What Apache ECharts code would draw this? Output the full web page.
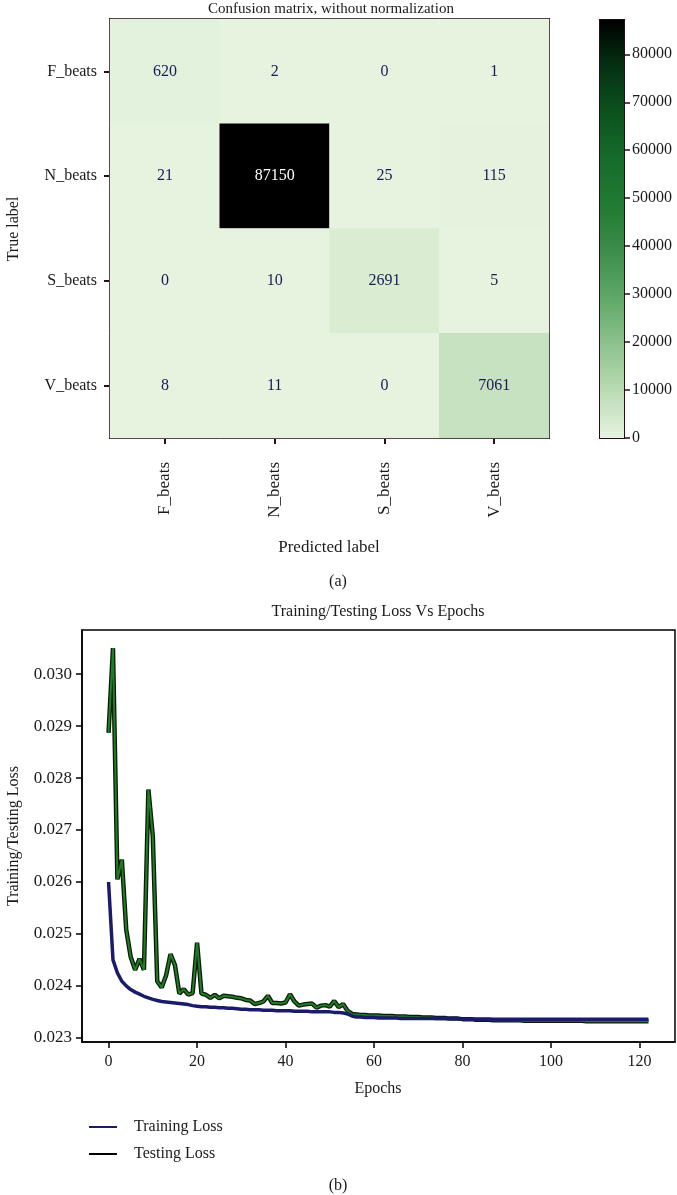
<!DOCTYPE html>
<html>
<head>
<meta charset="utf-8">
<script src="https://cdn.jsdelivr.net/npm/echarts@6/dist/echarts.min.js"></script>
<style>
html,body{margin:0;padding:0;background:#fff;}
#c{width:677px;height:1195px;}
</style>
</head>
<body>
<div id="c"></div>
<script>
// ---------- Data ----------
const classLabels = ['F_beats', 'N_beats', 'S_beats', 'V_beats'];
// rows = true label, cols = predicted label
const cmRowF = [620, 2, 0, 1];
const cmRowN = [21, 87150, 25, 115];
const cmRowS = [0, 10, 2691, 5];
const cmRowV = [8, 11, 0, 7061];
const colorbarTicks = [0, 10000, 20000, 30000, 40000, 50000, 60000, 70000, 80000];

const epochTicks = [0, 20, 40, 60, 80, 100, 120];
const lossTicks = [0.023, 0.024, 0.025, 0.026, 0.027, 0.028, 0.029, 0.030];

const trainingLoss = [
  0.02600, 0.02450, 0.02425, 0.02409, 0.02400, 0.02393, 0.02388, 0.02384, 0.02380, 0.02377,
  0.02374, 0.02372, 0.02370, 0.02369, 0.02368, 0.02367, 0.02366, 0.02365, 0.02364, 0.02362,
  0.02361, 0.02360, 0.02360, 0.02359, 0.02359, 0.02358, 0.02358, 0.02357, 0.02357, 0.02356,
  0.02355, 0.02355, 0.02354, 0.02354, 0.02354, 0.02353, 0.02353, 0.02353, 0.02352, 0.02352,
  0.02352, 0.02352, 0.02351, 0.02351, 0.02351, 0.02351, 0.02350, 0.02350, 0.02350, 0.02350,
  0.02350, 0.02349, 0.02349, 0.02348, 0.02346, 0.02342, 0.02340, 0.02340, 0.02339, 0.02339,
  0.02339, 0.02338, 0.02338, 0.02338, 0.02338, 0.02338, 0.02337, 0.02337, 0.02337, 0.02337,
  0.02337, 0.02337, 0.02337, 0.02337, 0.02337, 0.02337, 0.02337, 0.02337, 0.02337, 0.02337,
  0.02336, 0.02336, 0.02336, 0.02336, 0.02336, 0.02336, 0.02336, 0.02336, 0.02336, 0.02336,
  0.02336, 0.02336, 0.02336, 0.02336, 0.02336, 0.02336, 0.02336, 0.02336, 0.02336, 0.02336,
  0.02336, 0.02336, 0.02336, 0.02336, 0.02336, 0.02336, 0.02336, 0.02336, 0.02336, 0.02336,
  0.02336, 0.02336, 0.02336, 0.02336, 0.02336, 0.02336, 0.02336, 0.02336, 0.02336, 0.02336,
  0.02336, 0.02336, 0.02336
];
const testingLoss = [
  0.02887, 0.03050, 0.02605, 0.02643, 0.02508, 0.02456, 0.02431, 0.02452, 0.02431, 0.02778,
  0.02688, 0.02409, 0.02397, 0.02420, 0.02461, 0.02440, 0.02385, 0.02394, 0.02383, 0.02386,
  0.02483, 0.02385, 0.02383, 0.02377, 0.02383, 0.02376, 0.02381, 0.02380, 0.02379, 0.02377,
  0.02376, 0.02373, 0.02372, 0.02365, 0.02367, 0.02370, 0.02381, 0.02367, 0.02367, 0.02366,
  0.02368, 0.02384, 0.02370, 0.02362, 0.02364, 0.02365, 0.02366, 0.02358, 0.02362, 0.02363,
  0.02360, 0.02371, 0.02359, 0.02365, 0.02352, 0.02346, 0.02345, 0.02344, 0.02344, 0.02343,
  0.02343, 0.02343, 0.02342, 0.02342, 0.02342, 0.02341, 0.02341, 0.02341, 0.02340, 0.02340,
  0.02340, 0.02339, 0.02339, 0.02339, 0.02338, 0.02338, 0.02338, 0.02337, 0.02337, 0.02337,
  0.02336, 0.02336, 0.02336, 0.02335, 0.02335, 0.02335, 0.02335, 0.02334, 0.02334, 0.02334,
  0.02334, 0.02334, 0.02334, 0.02334, 0.02333, 0.02333, 0.02333, 0.02333, 0.02333, 0.02333,
  0.02333, 0.02333, 0.02333, 0.02333, 0.02333, 0.02333, 0.02333, 0.02333, 0.02332, 0.02332,
  0.02332, 0.02332, 0.02332, 0.02332, 0.02332, 0.02332, 0.02332, 0.02332, 0.02332, 0.02332,
  0.02332, 0.02332, 0.02332
];

// ---------- Build ----------
const cmRows = [cmRowF, cmRowN, cmRowS, cmRowV];
const cmMax = Math.max(...cmRows.flat());
const heatData = [];
cmRows.forEach((row, i) => row.forEach((v, j) => heatData.push([j, i, v])));
const trainPts = trainingLoss.map((v, i) => [i, v]);
const testPts = testingLoss.map((v, i) => [i, v]);

const cmap = ['#e6f3df', '#bbdcb4', '#8ec28e', '#60a967', '#3d8e4a',
              '#217b32', '#156c2b', '#0c521e', '#053112', '#000000'];
const FONT = '"Liberation Serif", "DejaVu Serif", serif';
const TXT = '#1a1a1a';
const FRAME = '#2a0d1c';
const FS = 16;

const chart = echarts.init(document.getElementById('c'), null, {renderer: 'canvas'});

const gradStops = cmap.map((c, i) => ({offset: 1 - i / (cmap.length - 1), color: c}));

const option = {
  backgroundColor: '#fff',
  animation: false,
  textStyle: {fontFamily: FONT},
  grid: [
    {left: 110, top: 19, width: 439, height: 419, show: true, borderColor: FRAME, borderWidth: 2, backgroundColor: 'transparent'},
    {left: 600, top: 20, width: 24, height: 418, show: true, borderColor: FRAME, borderWidth: 2},
    {left: 82, top: 630, width: 593, height: 412, show: true, borderColor: '#000', borderWidth: 1.5}
  ],
  visualMap: {
    show: false, type: 'continuous', seriesIndex: 0, min: 0, max: cmMax, dimension: 2,
    inRange: {color: cmap}
  },
  xAxis: [
    {
      gridIndex: 0, type: 'category', data: classLabels, position: 'bottom',
      axisLine: {show: true, lineStyle: {color: FRAME, width: 2}},
      axisTick: {show: true, alignWithLabel: true, length: 6, lineStyle: {color: FRAME, width: 2}},
      axisLabel: {rotate: 90, margin: 24, fontSize: FS + 1, color: TXT, fontFamily: FONT},
      splitLine: {show: false}, splitArea: {show: false}
    },
    {gridIndex: 1, type: 'category', data: [''], show: false},
    {
      gridIndex: 2, type: 'value', min: -6, max: 128,
      axisLine: {show: true, onZero: false, lineStyle: {color: '#000', width: 1.5}},
      axisTick: {show: true, customValues: epochTicks, length: 6, lineStyle: {color: '#000', width: 1.5}},
      axisLabel: {customValues: epochTicks, margin: 12, fontSize: FS, color: TXT, fontFamily: FONT},
      splitLine: {show: false}
    }
  ],
  yAxis: [
    {
      gridIndex: 0, type: 'category', data: classLabels, inverse: true,
      axisLine: {show: true, lineStyle: {color: FRAME, width: 2}},
      axisTick: {show: true, alignWithLabel: true, length: 6, lineStyle: {color: FRAME, width: 2}},
      axisLabel: {margin: 13, fontSize: FS, color: TXT, fontFamily: FONT},
      splitLine: {show: false}, splitArea: {show: false}
    },
    {
      gridIndex: 1, type: 'value', min: 0, max: cmMax, position: 'right',
      axisLine: {show: true, onZero: false, lineStyle: {color: FRAME, width: 2}},
      axisTick: {show: true, customValues: colorbarTicks, length: 6, lineStyle: {color: FRAME, width: 1.5}},
      axisLabel: {customValues: colorbarTicks, margin: 8, fontSize: FS, color: TXT, fontFamily: FONT,
                  formatter: v => String(v)},
      splitLine: {show: false}
    },
    {
      gridIndex: 2, type: 'value', min: 0.02292, max: 0.03085,
      axisLine: {show: true, onZero: false, lineStyle: {color: '#000', width: 1.5}},
      axisTick: {show: true, customValues: lossTicks, length: 6, lineStyle: {color: '#000', width: 1.5}},
      axisLabel: {customValues: lossTicks, margin: 10, fontSize: FS + 1, color: TXT, fontFamily: FONT,
                  formatter: v => v.toFixed(3)},
      splitLine: {show: false}
    }
  ],
  legend: {
    orient: 'vertical', left: 84, top: 1114, itemGap: 11, itemWidth: 28, itemHeight: 2,
    icon: 'rect',
    data: ['Training Loss', 'Testing Loss'],
    textStyle: {fontSize: FS, color: TXT, fontFamily: FONT, padding: [0, 0, 0, 12], lineHeight: 16}
  },
  series: [
    {
      type: 'heatmap', xAxisIndex: 0, yAxisIndex: 0, data: heatData, silent: true,
      label: {
        show: true, fontFamily: FONT,
        formatter: p => (p.value[2] > cmMax / 2 ? '{w|' : '{d|') + p.value[2] + '}',
        rich: {
          d: {color: '#1d1858', fontSize: FS, fontFamily: FONT},
          w: {color: '#ffffff', fontSize: FS, fontFamily: FONT}
        }
      },
      itemStyle: {borderWidth: 0}
    },
    {
      type: 'bar', xAxisIndex: 1, yAxisIndex: 1, data: [cmMax], barWidth: '100%', silent: true,
      itemStyle: {color: new echarts.graphic.LinearGradient(0, 0, 0, 1, gradStops)}
    },
    {
      name: 'Testing Loss', type: 'line', xAxisIndex: 2, yAxisIndex: 2, data: testPts,
      symbol: 'none', showSymbol: false, silent: true, z: 3,
      lineStyle: {color: '#0b1a0b', width: 4.5}, itemStyle: {color: '#000'}
    },
    {
      name: 'Testing Loss (core)', type: 'line', xAxisIndex: 2, yAxisIndex: 2, data: testPts,
      symbol: 'none', showSymbol: false, silent: true, z: 4,
      lineStyle: {color: '#1f7d22', width: 2}
    },
    {
      name: 'Training Loss', type: 'line', xAxisIndex: 2, yAxisIndex: 2, data: trainPts,
      symbol: 'none', showSymbol: false, silent: true, z: 5,
      lineStyle: {color: '#1b1b6b', width: 3.5}, itemStyle: {color: '#1b1b6b'}
    }
  ],
  graphic: [
    {type: 'text', x: 331, y: 9, style: {text: 'Confusion matrix, without normalization', fontSize: 15, fontFamily: FONT, fill: TXT, align: 'center', verticalAlign: 'middle'}},
    {type: 'text', x: 14, y: 229, rotation: Math.PI / 2, style: {text: 'True label', fontSize: FS, fontFamily: FONT, fill: TXT, align: 'center', verticalAlign: 'middle'}},
    {type: 'text', x: 329, y: 548, style: {text: 'Predicted label', fontSize: FS + 1, fontFamily: FONT, fill: TXT, align: 'center', verticalAlign: 'middle'}},
    {type: 'text', x: 338, y: 582, style: {text: '(a)', fontSize: FS, fontFamily: FONT, fill: TXT, align: 'center', verticalAlign: 'middle'}},
    {type: 'text', x: 378, y: 612, style: {text: 'Training/Testing Loss Vs Epochs', fontSize: FS, fontFamily: FONT, fill: TXT, align: 'center', verticalAlign: 'middle'}},
    {type: 'text', x: 14, y: 836, rotation: Math.PI / 2, style: {text: 'Training/Testing Loss', fontSize: FS, fontFamily: FONT, fill: TXT, align: 'center', verticalAlign: 'middle'}},
    {type: 'text', x: 378, y: 1089, style: {text: 'Epochs', fontSize: FS, fontFamily: FONT, fill: TXT, align: 'center', verticalAlign: 'middle'}},
    {type: 'text', x: 338, y: 1186, style: {text: '(b)', fontSize: FS, fontFamily: FONT, fill: TXT, align: 'center', verticalAlign: 'middle'}}
  ]
};
chart.setOption(option);
</script>
</body>
</html>
